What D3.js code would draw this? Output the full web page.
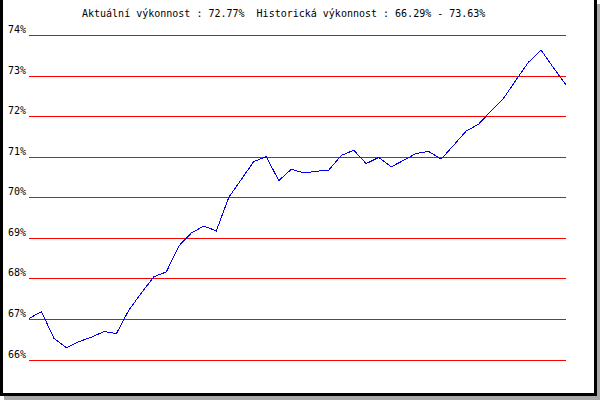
<!DOCTYPE html>
<html>
<head>
<meta charset="utf-8">
<script src="https://cdn.jsdelivr.net/npm/d3@7"></script>
<style>
  html, body { margin: 0; padding: 0; background: #fff; }
  svg { display: block; }
  text { font-family: "DejaVu Sans Mono", "Liberation Mono", monospace; font-size: 10px; fill: #000; }
</style>
</head>
<body>
<svg id="chart" width="600" height="400"></svg>
<script>
// ── DATA ─────────────────────────────────────────────────────
const TITLE = 'Aktuální výkonnost : 72.77%  Historická výkonnost : 66.29% - 73.63%';

// y ticks (percent)
const yTicks = [66, 67, 68, 69, 70, 71, 72, 73, 74];

// performance values, one per period
const perf = [
  67.01, 67.18, 66.52, 66.29, 66.44, 66.55, 66.69, 66.64, 67.22, 67.64,
  68.04, 68.16, 68.80, 69.12, 69.29, 69.17, 70.00, 70.44, 70.88, 71.00,
  70.41, 70.69, 70.60, 70.64, 70.67, 71.03, 71.16, 70.83, 70.98, 70.75,
  70.91, 71.08, 71.13, 70.94, 71.28, 71.63, 71.80, 72.13, 72.44, 72.89,
  73.33, 73.63, 73.19, 72.77
];

// ── LAYOUT ───────────────────────────────────────────────────
const W = 600, H = 400;
const PLOT_L = 29, PLOT_R = 566;
const PLOT_T = 35, PLOT_B = 359.5;

const svg = d3.select('#chart');

// frame: grey drop shadow, black border, white panel
svg.append('rect').attr('x', 4).attr('y', 4).attr('width', W - 4).attr('height', H - 4)
  .attr('fill', '#a8a8a8');
svg.append('rect').attr('x', 0).attr('y', -3).attr('width', 597).attr('height', 399)
  .attr('fill', '#000');
svg.append('rect').attr('x', 3).attr('y', 0).attr('width', 591).attr('height', 393)
  .attr('fill', '#fff');

// ── SCALES ───────────────────────────────────────────────────
const x = d3.scaleLinear().domain([0, perf.length - 1]).range([PLOT_L, PLOT_R]);
const y = d3.scaleLinear().domain([66, 74]).range([PLOT_B, PLOT_T]);

// ── GRID / AXIS ──────────────────────────────────────────────
const yAxis = d3.axisLeft(y)
  .tickValues(yTicks)
  .tickSize(-(PLOT_R - PLOT_L))
  .tickPadding(3)
  .tickFormat(d => d + '%');

const gAxis = svg.append('g')
  .attr('transform', `translate(${PLOT_L},0)`)
  .call(yAxis);

gAxis.select('.domain').remove();
gAxis.selectAll('.tick line')
  .attr('stroke', '#ff0000')
  .attr('stroke-width', 1)
  .attr('shape-rendering', 'crispEdges');
gAxis.selectAll('.tick text')
  .attr('dy', -2.5)
  .attr('fill', '#000')
  .style('font-family', '"DejaVu Sans Mono", "Liberation Mono", monospace')
  .style('font-size', '10px');
gAxis.attr('font-family', null).attr('font-size', null);

// ── LINE ─────────────────────────────────────────────────────
const line = d3.line()
  .x((d, i) => x(i))
  .y(d => y(d));

svg.append('path')
  .datum(perf)
  .attr('d', line)
  .attr('fill', 'none')
  .attr('stroke', '#0000ee')
  .attr('stroke-width', 1)
  .attr('shape-rendering', 'crispEdges');

// ── TITLE ────────────────────────────────────────────────────
svg.append('text')
  .attr('x', 82)
  .attr('y', 17)
  .attr('xml:space', 'preserve')
  .style('white-space', 'pre')
  .text(TITLE);
</script>
</body>
</html>
